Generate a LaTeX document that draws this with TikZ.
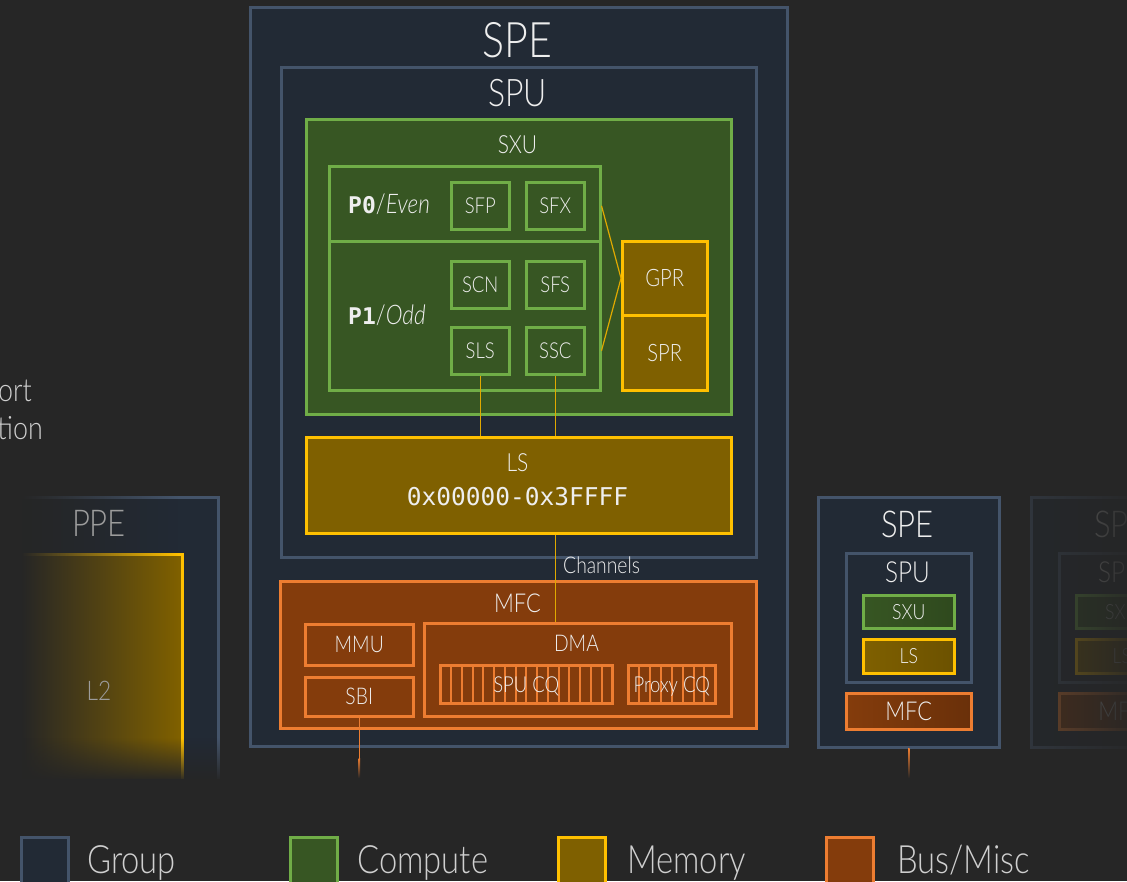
\documentclass[tikz,border=0pt]{standalone}
\usepackage{fontspec}
\IfFontExistsTF{Lato Light}
  {\setmainfont{Lato Light}[FakeStretch=0.84, ItalicFont={Lato Light Italic}]}
  {\setmainfont{Lato}[FakeStretch=0.84]}
\setmonofont{DejaVu Sans Mono}
\usetikzlibrary{calc,fadings}

\definecolor{bg}{HTML}{262626}
\definecolor{grpfill}{HTML}{222A35}
\definecolor{grpline}{HTML}{44546A}
\definecolor{cmpfill}{HTML}{375623}
\definecolor{cmpline}{HTML}{70AD47}
\definecolor{memfill}{HTML}{7F6000}
\definecolor{memline}{HTML}{FFC000}
\definecolor{busfill}{HTML}{843C0C}
\definecolor{busline}{HTML}{ED7D31}
\definecolor{ink}{HTML}{EEEEEE}
\definecolor{dimink}{HTML}{9C9C9C}
\definecolor{legink}{HTML}{CFCFCF}

\newcommand\fsz[1]{\fontsize{#1}{#1}\selectfont}
% block: name, style, x1, y1, x2, y2, text (pixel-like coordinates, y downwards)
\newcommand\blk[7]{\node[#2, anchor=north west, minimum width={#5-#3}, minimum height={#6-#4}] (#1) at (#3,#4) {#7};}

\tikzfading[name=fadewest, left color=transparent!0, right color=transparent!100]
\tikzfading[name=fadesouth, top color=transparent!100, bottom color=transparent!5]
\tikzfading[name=fadeeast, left color=transparent!36, right color=transparent!6]

\tikzset{
  base/.style={line width=2.5pt, text=ink, inner sep=0pt, font=\fsz{22}, text depth=0pt},
  grp/.style={base, draw=grpline, fill=grpfill},
  cmp/.style={base, draw=cmpline, fill=cmpfill},
  mem/.style={base, draw=memline, fill=memfill},
  bus/.style={base, draw=busline, fill=busfill},
  ttl/.style={anchor=base, text=ink, inner sep=0pt},
  link/.style={draw=memline!88!black, line width=1.2pt},
  cells/.style={path picture={
    \pgfmathtruncatemacro\cellsn{#1-1}
    \foreach \i in {1,...,\cellsn}{
      \draw[busline, line width=2pt]
        ($(path picture bounding box.north west)!\i/#1!(path picture bounding box.north east)$) --
        ($(path picture bounding box.south west)!\i/#1!(path picture bounding box.south east)$);}}},
}

\begin{document}
\begin{tikzpicture}[x=1pt,y=-1pt]
\useasboundingbox (0,0) rectangle (1127,881);
\fill[bg] (0,0) rectangle (1127,881);

% partially visible caption at the left edge
\node[anchor=base east, text=legink, inner sep=0pt, font=\fsz{32}] (capa) at (32,401) {ort};
\node[anchor=base east, text=legink, inner sep=0pt, font=\fsz{32}] (capb) at (43,439) {tion};

% ---------------- PPE (cut off at left and bottom) ----------------
\begin{scope}
  \clip (0,480) rectangle (230,778);
  \blk{ppe}{grp}{-19}{496}{217}{820}{}
  \blk{l2}{mem}{17}{553}{181}{820}{}
  \fill[bg] (0,488) rectangle (22,790);
  \fill[bg, path fading=fadewest] (21.5,488) rectangle (178,790);
  \fill[bg, path fading=fadesouth] (0,738) rectangle (230,779);
\end{scope}
\node[ttl, text=dimink, font=\fsz{37}] (ppet) at (99,536) {PPE};
\node[ttl, text=dimink, font=\fsz{27}] (l2t) at (99,700) {L2};

% ---------------- main SPE ----------------
\blk{spe}{grp}{249}{6}{786}{745}{}
\node[ttl, font=\fsz{49}] (spet) at (517.5,57) {SPE};
\blk{spu}{grp}{280}{66}{755}{556}{}
\node[ttl, font=\fsz{38}] (sput) at (517.5,106) {SPU};

\blk{sxu}{cmp}{305}{118}{730}{413}{}
\node[ttl, font=\fsz{25}] (sxut) at (517.5,153) {SXU};
\blk{p0}{cmp}{328}{165}{599}{240}{}
\blk{p1}{cmp}{328}{240}{599}{389}{}
\node[anchor=base west, text=ink, inner sep=0pt, font=\fsz{27}] (p0t) at (348,213)
  {{\ttfamily\bfseries\fsz{23}P0}/\textit{Even}};
\node[anchor=base west, text=ink, inner sep=0pt, font=\fsz{27}] (p1t) at (348,324)
  {{\ttfamily\bfseries\fsz{23}P1}/\textit{Odd}};
\blk{sfp}{cmp}{450}{181}{508}{228}{SFP}
\blk{sfx}{cmp}{525}{181}{583}{228}{SFX}
\blk{scn}{cmp}{450}{260}{508}{307}{SCN}
\blk{sfs}{cmp}{525}{260}{583}{307}{SFS}
\blk{sls}{cmp}{450}{326}{508}{373}{SLS}
\blk{ssc}{cmp}{525}{326}{583}{373}{SSC}
\blk{gpr}{mem}{621}{240}{706}{314}{\fsz{24}GPR}
\blk{spr}{mem}{621}{314}{706}{389}{\fsz{24}SPR}

\blk{ls}{mem}{305}{436}{730}{532}{}
\node[ttl, font=\fsz{25}] (lst) at (517.5,471) {LS};
\node[ttl, font=\ttfamily\fsz{24.5}] (lsr) at (517.5,505) {0x00000-0x3FFFF};

\draw[link] (p0.east |- sfx.center) -- (gpr.west);
\draw[link] (p1.east |- ssc.center) -- (gpr.west);
\draw[link] (sls.south) -- (sls.south |- ls.north);
\draw[link] (ssc.south) -- (ssc.south |- ls.north);

\blk{mfc}{bus}{279}{580}{755}{727}{}
\node[ttl, font=\fsz{26}] (mfct) at (517.5,612) {MFC};
\blk{mmu}{bus}{304}{623}{412}{664}{\fsz{23}MMU}
\blk{sbi}{bus}{304}{676}{412}{715}{\fsz{23}SBI}
\blk{dma}{bus}{423}{622}{730}{715}{}
\node[ttl, font=\fsz{23}] (dmat) at (576.5,651) {DMA};
\blk{spucq}{bus, cells=16}{439}{664}{611}{702}{SPU CQ}
\blk{proxycq}{bus, cells=8}{627}{664}{714}{702}{Proxy CQ}

\draw[link] (ssc.south |- ls.south) -- (ssc.south |- dma.north);
\node[anchor=base west, text=ink, inner sep=0pt, font=\fsz{23}] (chan) at (563,573) {Channels};

% bus line leaving the SBI
\coordinate (sbiend) at (sbi.south |- 0,778);
\draw[busline, line width=1.5pt] (sbi.south) -- ($(sbi.south |- 0,758)$);
\shade[top color=busline, bottom color=bg] ($(sbi.south |- 0,758)+(-0.75,0)$) rectangle ($(sbiend)+(0.75,0)$);

% ---------------- second SPE (compact) ----------------
\blk{speb}{grp}{817}{496}{998}{746}{}
\node[ttl, font=\fsz{37}] (spebt) at (907.5,537) {SPE};
\blk{spub}{grp}{845}{552}{970}{681}{}
\node[ttl, font=\fsz{29}] (spubt) at (907.5,582) {SPU};
\blk{sxub}{cmp, left color=cmpfill, right color=cmpfill!85!black}{862}{594}{953}{627}{\fsz{21}SXU}
\blk{lsb}{mem, left color=memfill, right color=memfill!85!black}{862}{638}{953}{672}{\fsz{21}LS}
\blk{mfcb}{bus, left color=busfill, right color=busfill!80!black}{845}{692}{970}{728}{\fsz{26}MFC}
\coordinate (spebend) at (speb.south |- 0,778);
\shade[top color=busline, bottom color=bg] ($(speb.south)+(-0.75,0)$) rectangle ($(spebend)+(0.75,0)$);

% ---------------- third SPE (fading out at the right edge) ----------------
\blk{spec}{grp}{1030}{496}{1211}{746}{}
\node[ttl, font=\fsz{37}] (spect) at (1120.5,537) {SPE};
\blk{spuc}{grp}{1058}{552}{1183}{681}{}
\node[ttl, font=\fsz{29}] (spuct) at (1120.5,582) {SPU};
\blk{sxuc}{cmp}{1075}{594}{1166}{627}{\fsz{21}SXU}
\blk{lsc}{mem}{1075}{638}{1166}{672}{\fsz{21}LS}
\blk{mfcc}{bus}{1058}{692}{1183}{728}{\fsz{26}MFC}
\fill[bg, path fading=fadeeast] (1020,486) rectangle (1127,760);

% ---------------- legend ----------------
\blk{lgg}{grp}{20}{836}{67}{900}{}
\node[anchor=base west, text=legink, inner sep=0pt, font=\fsz{39}] (lggt) at (87,873) {Group};
\blk{lgc}{cmp}{289}{836}{336}{900}{}
\node[anchor=base west, text=legink, inner sep=0pt, font=\fsz{39}] (lgct) at (357,873) {Compute};
\blk{lgm}{mem}{557}{836}{604}{900}{}
\node[anchor=base west, text=legink, inner sep=0pt, font=\fsz{39}] (lgmt) at (627,873) {Memory};
\blk{lgb}{bus}{825}{836}{872}{900}{}
\node[anchor=base west, text=legink, inner sep=0pt, font=\fsz{39}] (lgbt) at (897,873) {Bus/Misc};
\end{tikzpicture}
\end{document}
